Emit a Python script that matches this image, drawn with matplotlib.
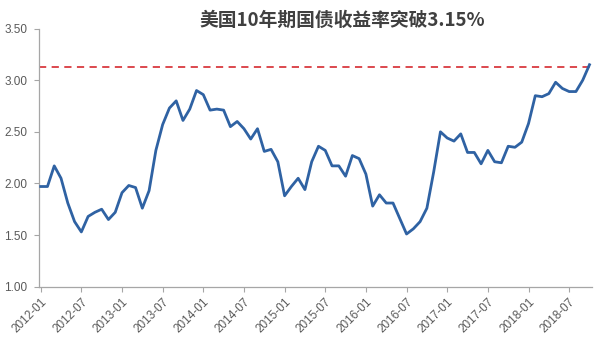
# -*- coding: utf-8 -*-
# US 10y treasury yield, monthly 2012-01 .. 2018-10, with the 3.15% break line.
import numpy as np
import matplotlib
matplotlib.use("Agg")
import matplotlib.pyplot as plt

plt.rcParams["font.family"] = ["Liberation Sans", "Noto Sans CJK SC", "DejaVu Sans"]

C_LINE = "#2f62a3"
C_BREAK = "#d93a40"
C_AXIS = "#a6a6a6"
C_TEXT = "#595959"

# months since 2012-01
months = np.arange(82)
yields = [
    1.97, 1.97, 2.17, 2.05, 1.81, 1.63, 1.53, 1.68, 1.72, 1.75, 1.65, 1.72,   # 2012
    1.91, 1.98, 1.96, 1.76, 1.93, 2.32, 2.57, 2.73, 2.80, 2.61, 2.72, 2.90,   # 2013
    2.86, 2.71, 2.72, 2.71, 2.55, 2.60, 2.53, 2.43, 2.53, 2.31, 2.33, 2.21,   # 2014
    1.88, 1.97, 2.05, 1.94, 2.21, 2.36, 2.32, 2.17, 2.17, 2.07, 2.27, 2.24,   # 2015
    2.09, 1.78, 1.89, 1.81, 1.81, 1.66, 1.51, 1.56, 1.63, 1.76, 2.11, 2.50,   # 2016
    2.44, 2.41, 2.48, 2.30, 2.30, 2.19, 2.32, 2.21, 2.20, 2.36, 2.35, 2.40,   # 2017
    2.58, 2.85, 2.84, 2.87, 2.98, 2.92, 2.89, 2.89, 3.00, 3.15,               # 2018
]
break_level = 3.13

tick_pos = list(range(0, 82, 6))
tick_labels = [f"{2012 + m // 12}-{m % 12 + 1:02d}" for m in tick_pos]
ytick_vals = [1.0, 1.5, 2.0, 2.5, 3.0, 3.5]

fig = plt.figure(figsize=(6.0, 3.53), dpi=100)
ax = fig.add_axes([0.065, 0.188, 0.922, 0.731])

ax.plot(months, yields, color=C_LINE, lw=2.0, solid_joinstyle="round", zorder=3)
ax.axhline(break_level, color=C_BREAK, lw=1.3, ls=(0, (4, 3)), zorder=2)

ax.set_xlim(-0.25, 81.4)
ax.set_ylim(1.0, 3.5)
ax.set_xticks(tick_pos)
ax.set_xticklabels(tick_labels, rotation=45, ha="right", rotation_mode="anchor")
ax.set_yticks(ytick_vals)
ax.set_yticklabels([f"{v:.2f}" for v in ytick_vals])

for s in ("top", "right"):
    ax.spines[s].set_visible(False)
for s in ("left", "bottom"):
    ax.spines[s].set_color(C_AXIS)
    ax.spines[s].set_linewidth(0.9)
ax.tick_params(axis="both", colors=C_AXIS, labelcolor=C_TEXT, labelsize=8.5,
               length=3.5, width=0.8)
ax.tick_params(axis="x", pad=3)
ax.tick_params(axis="y", pad=5)

fig.text(0.57, 0.943, "美国10年期国债收益率突破3.15%", ha="center", va="center",
         fontsize=13.5, fontweight="bold", color="#404040",
         family=["Noto Sans CJK SC", "DejaVu Sans"])

fig.savefig("out.png", dpi=100)
